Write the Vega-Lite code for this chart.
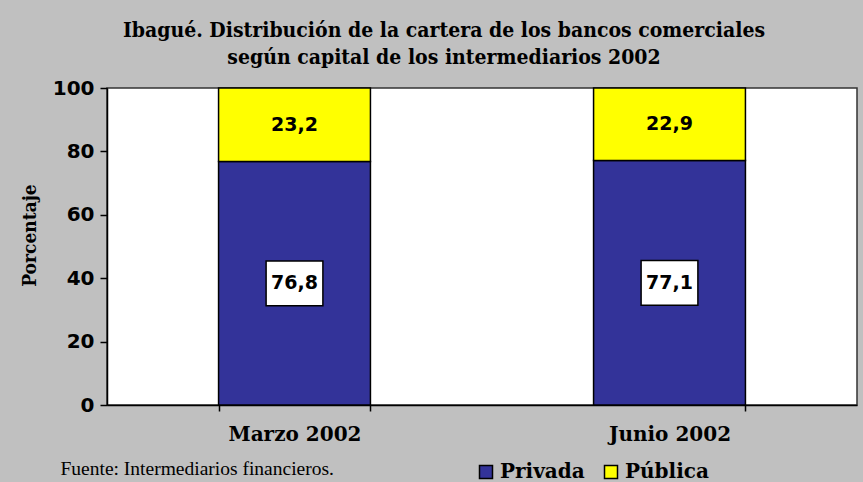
{
  "$schema": "https://vega.github.io/schema/vega-lite/v6.json",
  "width": 750,
  "height": 317,
  "autosize": {"type": "none"},
  "padding": {"left": 107, "top": 88, "right": 6, "bottom": 77},
  "background": "#C0C0C0",
  "title": {
    "text": ["Ibagué. Distribución de la cartera de los bancos comerciales", "según capital de los intermediarios 2002"],
    "font": "DejaVu Serif Condensed",
    "fontSize": 21,
    "fontWeight": "bold",
    "color": "black",
    "anchor": "middle",
    "dx": -38,
    "lineHeight": 27,
    "offset": 10
  },
  "data": {
    "values": [
      {"mes": "Marzo 2002", "tipo": "Privada", "valor": 76.8, "orden": 1, "etiqueta": "76,8"},
      {"mes": "Marzo 2002", "tipo": "Pública", "valor": 23.2, "orden": 2, "etiqueta": "23,2"},
      {"mes": "Junio 2002", "tipo": "Privada", "valor": 77.1, "orden": 1, "etiqueta": "77,1"},
      {"mes": "Junio 2002", "tipo": "Pública", "valor": 22.9, "orden": 2, "etiqueta": "22,9"}
    ]
  },
  "transform": [
    {"stack": "valor", "groupby": ["mes"], "sort": [{"field": "orden", "order": "ascending"}], "as": ["v0", "v1"]},
    {"calculate": "(datum.v0 + datum.v1) / 2", "as": "medio"}
  ],
  "encoding": {
    "x": {
      "field": "mes",
      "type": "nominal",
      "sort": ["Marzo 2002", "Junio 2002"],
      "scale": {"paddingInner": 0.595, "paddingOuter": 0.2975},
      "axis": {
        "labelAngle": 0,
        "labelFont": "DejaVu Serif",
        "labelFontSize": 20,
        "labelFontWeight": "bold",
        "labelColor": "black",
        "labelPadding": 13,
        "tickBand": "extent",
        "tickSize": 6,
        "tickColor": "black",
        "tickWidth": 1.5,
        "domainColor": "black",
        "domainWidth": 1.5,
        "title": "Fuente: Intermediarios financieros.",
        "titleFont": "Liberation Serif",
        "titleFontSize": 19.5,
        "titleFontWeight": "normal",
        "titleColor": "black",
        "titleAnchor": "start",
        "titleAlign": "left",
        "titleX": -47,
        "titleY": 69,
        "titleBaseline": "alphabetic"
      }
    }
  },
  "layer": [
    {
      "mark": {"type": "bar", "stroke": "black", "strokeWidth": 1.5},
      "encoding": {
        "y": {
          "field": "v0",
          "type": "quantitative",
          "scale": {"domain": [0, 100]},
          "axis": {
            "values": [0, 20, 40, 60, 80, 100],
            "grid": false,
            "labelFont": "DejaVu Sans",
            "labelFontSize": 20,
            "labelFontWeight": "bold",
            "labelColor": "black",
            "labelPadding": 6,
            "tickSize": 7,
            "tickColor": "black",
            "tickWidth": 1.5,
            "domainColor": "black",
            "domainWidth": 1.5,
            "title": "Porcentaje",
            "titleFont": "DejaVu Serif Condensed",
            "titleFontSize": 19,
            "titleFontWeight": "bold",
            "titleColor": "black",
            "titleX": -78,
            "titleY": 147,
            "titleAngle": -90,
            "titleBaseline": "middle",
            "titleAlign": "center"
          }
        },
        "y2": {"field": "v1"},
        "color": {
          "field": "tipo",
          "type": "nominal",
          "scale": {"domain": ["Privada", "Pública"], "range": ["#333399", "#FFFF00"]},
          "legend": {
            "orient": "none",
            "legendX": 369,
            "legendY": 374,
            "direction": "horizontal",
            "title": null,
            "symbolType": "square",
            "symbolSize": 169,
            "symbolStrokeColor": "black",
            "symbolStrokeWidth": 1.5,
            "symbolOpacity": 1,
            "labelFont": "DejaVu Serif",
            "labelFontSize": 20,
            "labelFontWeight": "bold",
            "labelColor": "black",
            "labelOffset": 4,
            "columnPadding": 16
          }
        }
      }
    },
    {
      "transform": [{"filter": "datum.tipo == 'Privada'"}],
      "mark": {
        "type": "point",
        "shape": "M -1.27 -1 L 1.27 -1 L 1.27 1 L -1.27 1 Z",
        "size": 2000,
        "filled": true,
        "fill": "white",
        "stroke": "black",
        "strokeWidth": 1.5,
        "opacity": 1
      },
      "encoding": {
        "y": {"field": "medio", "type": "quantitative"}
      }
    },
    {
      "mark": {
        "type": "text",
        "font": "DejaVu Sans",
        "fontSize": 19,
        "fontWeight": "bold",
        "color": "black",
        "baseline": "middle",
        "align": "center"
      },
      "encoding": {
        "y": {"field": "medio", "type": "quantitative"},
        "text": {"field": "etiqueta"}
      }
    }
  ],
  "config": {
    "view": {"fill": "white", "stroke": "#333333", "strokeWidth": 1.5}
  }
}
